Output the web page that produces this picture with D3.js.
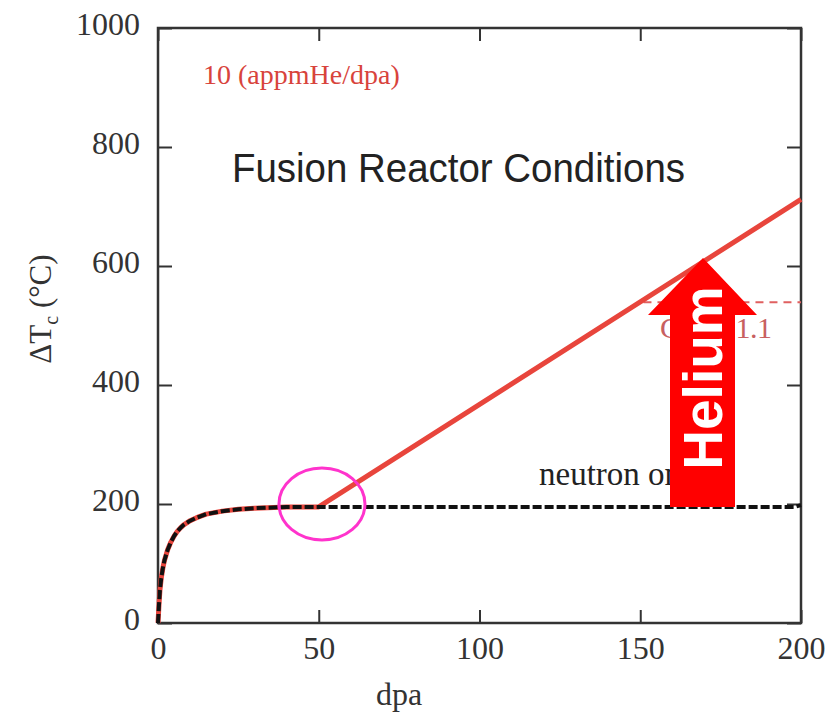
<!DOCTYPE html>
<html lang="en">
<head>
<meta charset="utf-8">
<script src="https://d3js.org/d3.v7.min.js"></script>
<style>
  body { margin: 0; background: #fff; }
  svg { display: block; }
  .tick text { font-family: "Liberation Serif", serif; font-size: 32px; fill: #333; }
</style>
</head>
<body>
<script>
// neutron-only swelling curve (dpa, deltaT)
var neutronDpa = [0, 0.3, 0.6, 1, 1.5, 2, 3, 4, 5, 6, 7, 8, 10, 12, 15, 20, 25, 30, 40, 50, 100, 150, 198, 200];
var neutronDT  = [0, 30, 55, 75, 92, 105, 123, 136, 146, 154, 160, 165, 172, 177, 183, 188, 191, 193, 195, 195, 195, 195, 195, 198];

// helium (10 appmHe/dpa) curve
var heliumDpa = [0, 0.3, 0.6, 1, 1.5, 2, 3, 4, 5, 6, 7, 8, 10, 12, 15, 20, 25, 30, 40, 50, 200];
var heliumDT  = [0, 30, 55, 75, 92, 105, 123, 136, 146, 154, 160, 165, 172, 177, 183, 188, 191, 193, 195, 195, 712];

var xTicks = [0, 50, 100, 150, 200];
var yTicks = [0, 200, 400, 600, 800, 1000];
var refLevel = 539;   // red dashed reference
var refStart = 151;   // dpa where the reference starts

var width = 826, height = 718;
var margin = {left: 158, top: 28, right: 25, bottom: 95};

var svg = d3.select("body").append("svg")
    .attr("width", width)
    .attr("height", height);

var x = d3.scaleLinear().domain([0, 200]).range([margin.left, width - margin.right]);
var y = d3.scaleLinear().domain([0, 1000]).range([height - margin.bottom, margin.top]);

var line = d3.line()
    .x(function(d) { return x(d[0]); })
    .y(function(d) { return y(d[1]); });

// axes (ticks pointing inward)
svg.append("g")
    .attr("transform", "translate(0," + y(0) + ")")
    .call(d3.axisBottom(x).tickValues(xTicks).tickSize(-13).tickPadding(30).tickFormat(d3.format("d")))
    .call(function(g) { g.select(".domain").remove(); });
svg.append("g")
    .attr("transform", "translate(0," + y(1000) + ")")
    .call(d3.axisTop(x).tickValues(xTicks).tickSize(-13).tickFormat(""))
    .call(function(g) { g.select(".domain").remove(); });
svg.append("g")
    .attr("transform", "translate(" + x(0) + ",0)")
    .call(d3.axisLeft(y).tickValues(yTicks).tickSize(-14).tickPadding(18).tickFormat(d3.format("d")))
    .call(function(g) { g.select(".domain").remove(); });
svg.append("g")
    .attr("transform", "translate(" + x(200) + ",0)")
    .call(d3.axisRight(y).tickValues(yTicks).tickSize(-14).tickFormat(""))
    .call(function(g) { g.select(".domain").remove(); });

svg.selectAll(".tick line").attr("stroke", "#333").attr("stroke-width", 2);
svg.selectAll(".tick text").attr("dy", "0.2em");

// frame
svg.append("rect")
    .attr("x", x(0)).attr("y", y(1000))
    .attr("width", x(200) - x(0)).attr("height", y(0) - y(1000))
    .attr("fill", "none").attr("stroke", "#333").attr("stroke-width", 2.5);

// reference dashed line + label
svg.append("line")
    .attr("x1", x(refStart)).attr("x2", x(200))
    .attr("y1", y(refLevel)).attr("y2", y(refLevel))
    .attr("stroke", "#e06060").attr("stroke-width", 2)
    .attr("stroke-dasharray", "8,6");
svg.append("text")
    .attr("x", 660).attr("y", 338)
    .attr("textLength", 112).attr("lengthAdjust", "spacing")
    .style("font-family", "Liberation Serif, serif").style("font-size", "30px")
    .style("fill", "#c86060")
    .text("C/T = 1.1");

// curves
var heData = heliumDpa.map(function(d, i) { return [d, heliumDT[i]]; });
var nData = neutronDpa.map(function(d, i) { return [d, neutronDT[i]]; });

svg.append("path")
    .attr("d", line(heData))
    .attr("fill", "none").attr("stroke", "#e8453c").attr("stroke-width", 5)
    .attr("stroke-linejoin", "round");
svg.append("path")
    .attr("d", line(nData))
    .attr("fill", "none").attr("stroke", "#111").attr("stroke-width", 4)
    .attr("stroke-dasharray", "9,3");

// texts
svg.append("text")
    .attr("x", 203).attr("y", 84)
    .style("font-family", "Liberation Serif, serif").style("font-size", "28px")
    .style("fill", "#d8433c")
    .text("10 (appmHe/dpa)");

svg.append("text")
    .attr("x", 232).attr("y", 182)
    .attr("textLength", 453).attr("lengthAdjust", "spacingAndGlyphs")
    .style("font-family", "Liberation Sans, Arial, sans-serif").style("font-size", "41px")
    .style("fill", "#222")
    .text("Fusion Reactor Conditions");

svg.append("text")
    .attr("x", 539).attr("y", 485)
    .style("font-family", "Liberation Serif, serif").style("font-size", "33px")
    .style("fill", "#222")
    .text("neutron only");

// Helium arrow
var tipX = 703, tipY = 258, headY = 315, shaftL = 670, shaftR = 735, wingL = 648, wingR = 757;
svg.append("path")
    .attr("d", "M" + shaftL + "," + y(195) + "L" + shaftL + "," + headY + "L" + wingL + "," + headY +
        "L" + tipX + "," + tipY + "L" + wingR + "," + headY + "L" + shaftR + "," + headY +
        "L" + shaftR + "," + y(195) + "Z")
    .attr("fill", "#ff0000");
svg.append("text")
    .attr("transform", "translate(722,378) rotate(-90)")
    .attr("text-anchor", "middle")
    .style("font-family", "Liberation Sans, Arial, sans-serif").style("font-size", "55px")
    .style("font-weight", "bold").style("fill", "#fff")
    .text("Helium");

// circle mark
svg.append("ellipse")
    .attr("cx", x(51)).attr("cy", 504).attr("rx", 43).attr("ry", 36)
    .attr("fill", "none").attr("stroke", "#ff33cc").attr("stroke-width", 3);

// axis titles
svg.append("text")
    .attr("x", x(75)).attr("y", 705)
    .attr("text-anchor", "middle")
    .style("font-family", "Liberation Serif, serif").style("font-size", "32px")
    .style("fill", "#333")
    .text("dpa");

var yl = svg.append("text")
    .attr("transform", "translate(51,309) rotate(-90)")
    .attr("text-anchor", "middle")
    .style("font-family", "Liberation Serif, serif").style("font-size", "31px")
    .style("fill", "#333");
yl.append("tspan").text("ΔT");
yl.append("tspan").attr("dy", 7).style("font-size", "20px").text("c");
yl.append("tspan").attr("dy", -7).text(" (°C)");
</script>
</body>
</html>
